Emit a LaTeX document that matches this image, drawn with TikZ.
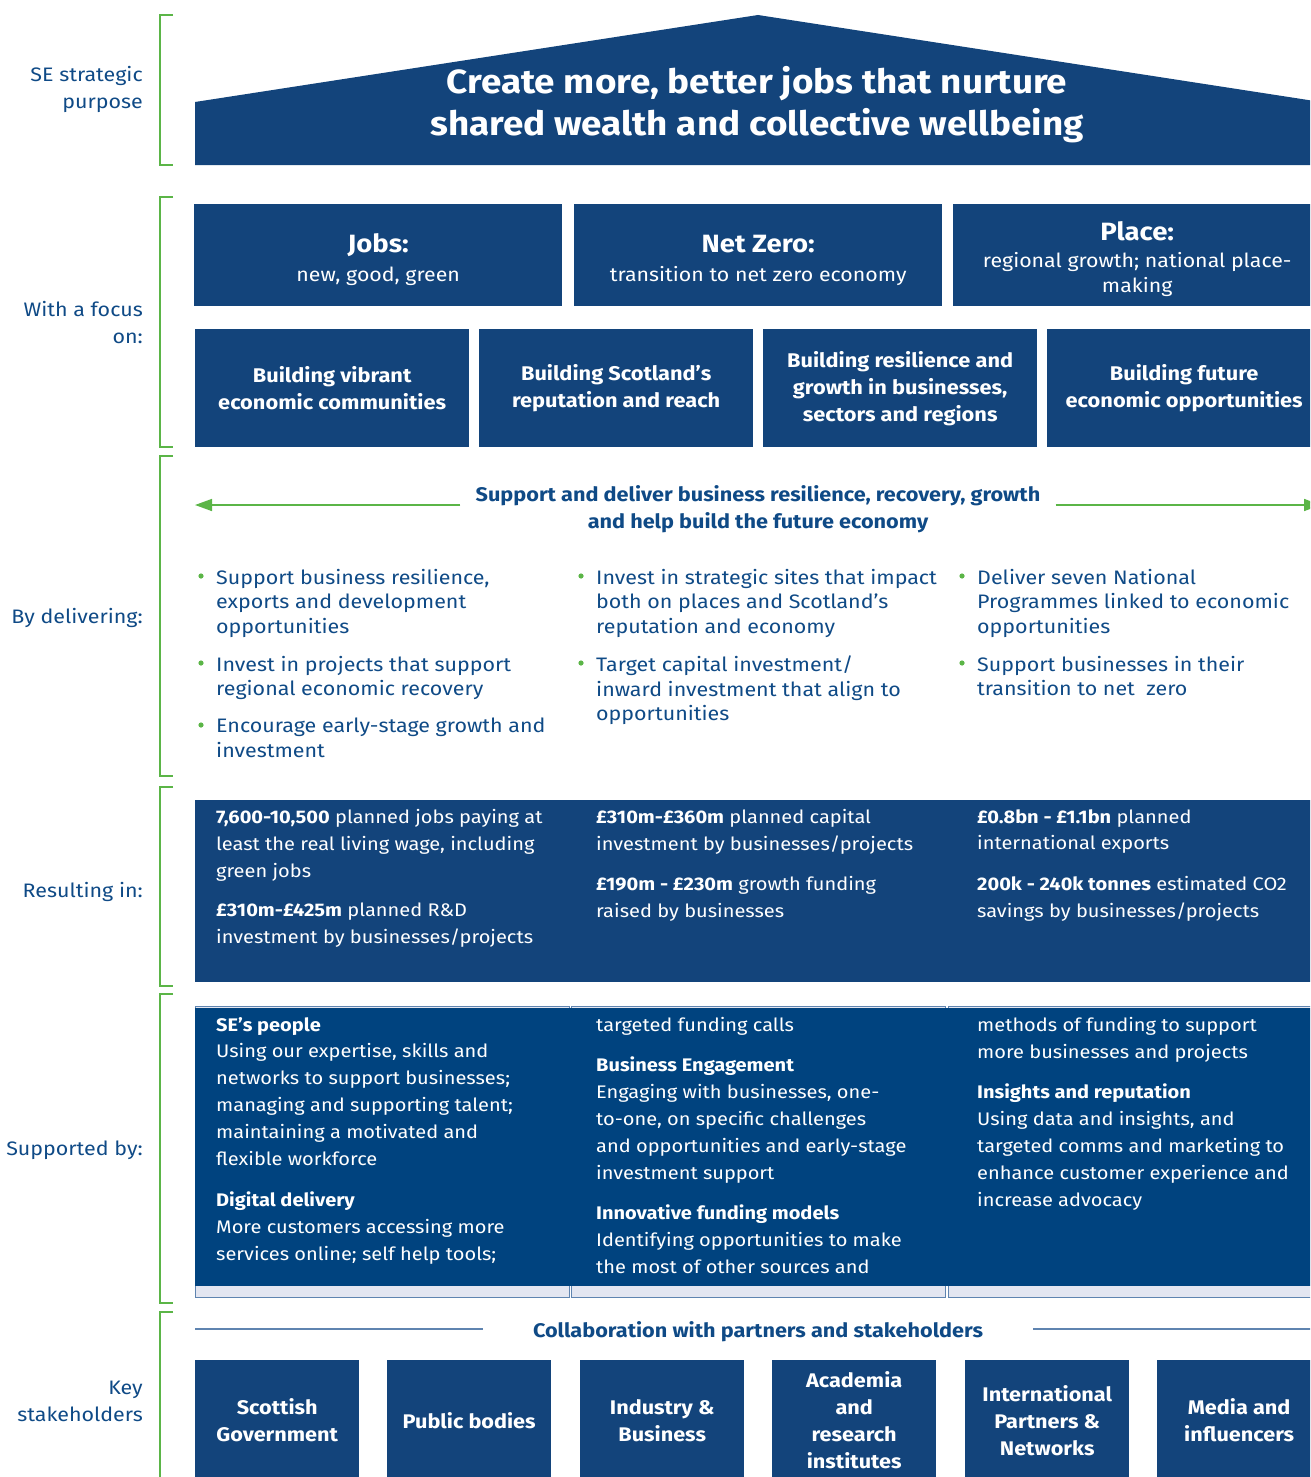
\documentclass[tikz,border=0pt]{standalone}
\usepackage{fontspec}
\setmainfont[FakeStretch=1.1]{Fira Sans}
\usetikzlibrary{arrows.meta,positioning}

\definecolor{senavy}{HTML}{13447B}
\definecolor{sedeep}{HTML}{00437F}
\definecolor{seblue}{HTML}{0F4A86}
\definecolor{segreen}{HTML}{5BB547}
\definecolor{selilac}{HTML}{E3E6F1}
\definecolor{seline}{HTML}{5F84B0}

% bullet point: name, x, y of first line, text
\newcommand\dotitem[4]{%
  \node[itemtext] (#1) at (#2,#3-7) {#4};
  \fill[segreen] (#2-15,#3) circle (2.6pt);}
% heading line inside a pillar box
\newcommand\pillarhead[1]{\rule{0pt}{27pt}{\fontsize{25}{29}\selectfont\bfseries #1}}

\begin{document}
\begin{tikzpicture}[x=1pt,y=-1pt,
    bracket/.style={segreen,line width=2.4pt},
    sidelabel/.style={text=seblue,font=\fontsize{19.5}{27}\selectfont,align=right,anchor=east,inner sep=0},
    navybox/.style={fill=senavy,text=white,inner sep=0,anchor=north west,align=center},
    pillarbox/.style={navybox,minimum width=368,minimum height=102,font=\fontsize{19.4}{29}\selectfont},
    themebox/.style={navybox,minimum width=274,minimum height=118,font=\fontsize{19.8}{27}\selectfont\bfseries},
    partnerbox/.style={navybox,minimum width=164,minimum height=120,font=\fontsize{19.7}{27}\selectfont\bfseries},
    itemtext/.style={text=seblue,anchor=north west,align=left,inner sep=0,font=\fontsize{19.5}{24.5}\selectfont},
    boxtext/.style={text=white,anchor=north west,align=left,inner sep=0,font=\fontsize{18.2}{26.8}\selectfont},
    headline/.style={text=seblue,font=\fontsize{19.7}{27}\selectfont\bfseries,align=center,inner sep=0},
    greenarrow/.style={segreen,line width=1.5pt,-{Triangle[length=17pt,width=12pt]}},
  ]
\useasboundingbox (0,0) rectangle (1310,1477);
\clip (0,0) rectangle (1310,1477);

% brackets down the left
\foreach \top/\bot in {15/165, 197/447, 456/776, 787/986, 994/1303, 1312/1500}
  \draw[bracket] (173,\top) -| (160,\bot) -- (173,\bot);

\node[sidelabel] (lpurpose) at (143,89) {SE strategic\\purpose};
\node[sidelabel] (lfocus) at (143,323) {With a focus\\on:};
\node[sidelabel] (ldeliver) at (143,618) {By delivering:};
\node[sidelabel] (lresult) at (143,892) {Resulting in:};
\node[sidelabel] (lsupport) at (143,1150) {Supported by:};
\node[sidelabel] (lstake) at (143,1401) {Key\\stakeholders};

% roof
\fill[senavy] (195,165) -- (195,102) -- (758,15) -- (1321,102) -- (1321,165) -- cycle;
\node[text=white,font=\fontsize{33.5}{42}\selectfont\bfseries,align=center] (purpose) at (757,105)
  {Create more, better jobs that nurture\\shared wealth and collective wellbeing};

% pillars
\node[pillarbox] (jobs) at (194,204) {\pillarhead{Jobs:}\\new, good, green};
\node[pillarbox] (netzero) at (574,204) {\pillarhead{Net Zero:}\\transition to net zero economy};
\node[pillarbox] (place) at (953,204) {\pillarhead{Place:}\\[-2pt]regional growth; national place-\\[-4pt]making};

\node[themebox] (vibrant) at (195,329) {Building vibrant\\economic communities};
\node[themebox] (reach) at (479,329) {Building Scotland’s\\reputation and reach};
\node[themebox] (resilience) at (763,329) {Building resilience and\\growth in businesses,\\sectors and regions};
\node[themebox] (future) at (1047,329) {Building future\\economic opportunities};

% delivery
\node[headline] (deliver) at (758,509) {Support and deliver business resilience, recovery, growth\\and help build the future economy};
\coordinate (arrL) at (195,505);
\coordinate (arrR) at (1321,505);
\draw[greenarrow] ([xshift=-15pt]deliver.west |- arrL) -- (arrL);
\draw[greenarrow] ([xshift=15pt]deliver.east |- arrR) -- (arrR);

\dotitem{d1}{216}{576}{Support business resilience,\\exports and development\\opportunities}
\dotitem{d2}{216}{663}{Invest in projects that support\\regional economic recovery}
\dotitem{d3}{216}{725}{Encourage early-stage growth and\\investment}
\dotitem{d4}{596}{576}{Invest in strategic sites that impact\\both on places and Scotland’s\\reputation and economy}
\dotitem{d5}{596}{663}{Target capital investment/\\inward investment that align to\\opportunities}
\dotitem{d6}{977}{576}{Deliver seven National\\Programmes linked to economic\\opportunities}
\dotitem{d7}{977}{663}{Support businesses in their\\transition to net \ zero}

% results
\fill[senavy] (195,800) rectangle (1321,982);
\node[boxtext] (r1) at (216,809) {\textbf{7,600-10,500} planned jobs paying at\\least the real living wage, including\\green jobs};
\node[boxtext] (r2) at (216,903) {\textbf{£310m-£425m} planned R\&D\\investment by businesses/projects};
\node[boxtext] (r3) at (596,809) {\textbf{£310m-£360m} planned capital\\investment by businesses/projects};
\node[boxtext] (r4) at (596,876) {\textbf{£190m - £230m} growth funding\\raised by businesses};
\node[boxtext] (r5) at (977,809) {\textbf{£0.8bn - £1.1bn} planned\\international exports};
\node[boxtext] (r6) at (977,876) {\textbf{200k - 240k tonnes} estimated CO2\\savings by businesses/projects};

% enablers
\foreach \l/\r in {195/569, 571/945, 948/1321}
  \draw[seline,fill=selilac,line width=1pt] (\l,1006) rectangle (\r,1297);
\fill[sedeep] (195,1008) rectangle (1321,1286);
\node[boxtext] (s1) at (216,1017) {\textbf{SE’s people}\\Using our expertise, skills and\\networks to support businesses;\\managing and supporting talent;\\maintaining a motivated and\\flexible workforce};
\node[boxtext] (s2) at (216,1192) {\textbf{Digital delivery}\\More customers accessing more\\services online; self help tools;};
\node[boxtext] (s3) at (596,1017) {targeted funding calls};
\node[boxtext] (s4) at (596,1057) {\textbf{Business Engagement}\\Engaging with businesses, one-\\to-one, on specific challenges\\and opportunities and early-stage\\investment support};
\node[boxtext] (s5) at (596,1205) {\textbf{Innovative funding models}\\Identifying opportunities to make\\the most of other sources and};
\node[boxtext] (s6) at (977,1017) {methods of funding to support\\more businesses and projects};
\node[boxtext] (s7) at (977,1084) {\textbf{Insights and reputation}\\Using data and insights, and\\targeted comms and marketing to\\enhance customer experience and\\increase advocacy};

% stakeholders
\node[headline] (collab) at (758,1332) {Collaboration with partners and stakeholders};
\coordinate (colL) at (195,1329);
\coordinate (colR) at (1321,1329);
\draw[seline,line width=1.3pt] ([xshift=-50pt]collab.west |- colL) -- (colL);
\draw[seline,line width=1.3pt] ([xshift=50pt]collab.east |- colR) -- (colR);

\node[partnerbox] (govt) at (195,1360) {Scottish\\Government};
\node[partnerbox] (public) at (387,1360) {Public bodies};
\node[partnerbox] (industry) at (580,1360) {Industry \&\\Business};
\node[partnerbox] (academia) at (772,1360) {Academia\\and\\research\\institutes};
\node[partnerbox] (intl) at (965,1360) {International\\Partners \&\\Networks};
\node[partnerbox] (media) at (1157,1360) {Media and\\influencers};
\end{tikzpicture}
\end{document}
